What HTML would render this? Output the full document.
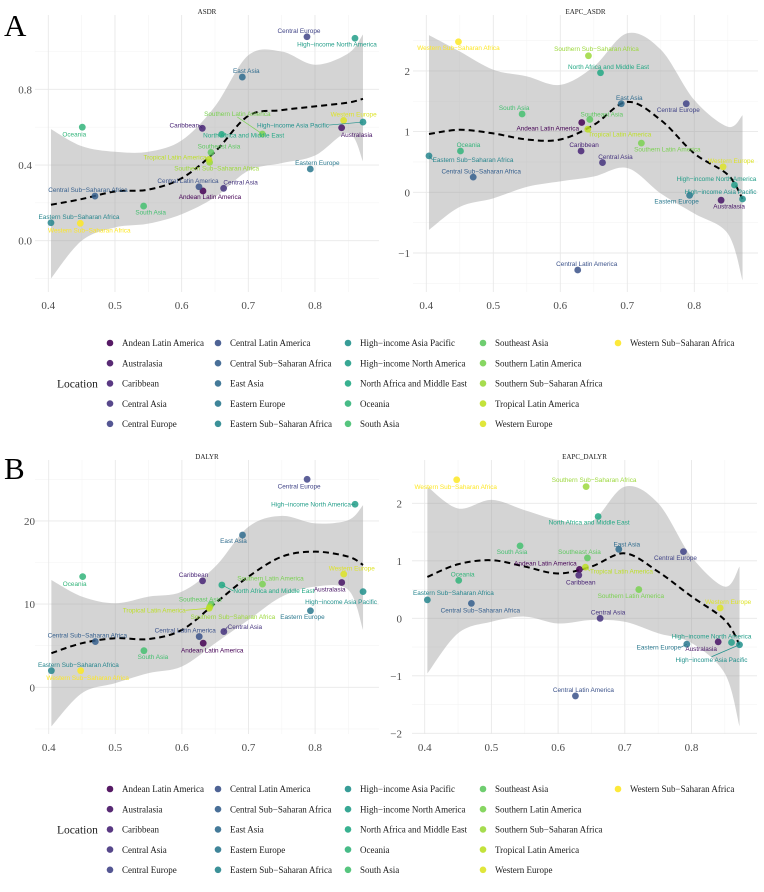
<!DOCTYPE html>
<html><head><meta charset="utf-8">
<style>
body{margin:0;background:#fff;}
svg{display:block;}
.tick{font-family:"Liberation Serif",serif;font-size:11px;fill:#4d4d4d;}
.ptitle{font-family:"Liberation Serif",serif;font-size:7px;fill:#1a1a1a;}
.lbl{font-family:"Liberation Sans",sans-serif;font-size:6.4px;}
.leg{font-family:"Liberation Serif",serif;font-size:9px;fill:#1a1a1a;}
.legt{font-family:"Liberation Serif",serif;font-size:11.5px;fill:#1a1a1a;}
.tag{font-family:"Liberation Serif",serif;font-size:31px;fill:#000;}
</style></head>
<body>
<svg id="fig" width="764" height="892" viewBox="0 0 764 892" xmlns="http://www.w3.org/2000/svg">
<text class="tag" x="4" y="36">A</text>
<text class="tag" x="4" y="479">B</text>
</svg>
<script>
const regions = ["Andean Latin America","Australasia","Caribbean","Central Asia","Central Europe","Central Latin America","Central Sub\u2212Saharan Africa","East Asia","Eastern Europe","Eastern Sub\u2212Saharan Africa","High\u2212income Asia Pacific","High\u2212income North America","North Africa and Middle East","Oceania","South Asia","Southeast Asia","Southern Latin America","Southern Sub\u2212Saharan Africa","Tropical Latin America","Western Europe","Western Sub\u2212Saharan Africa"];
const sdi = [0.632,0.840,0.631,0.663,0.788,0.626,0.470,0.691,0.793,0.404,0.872,0.860,0.660,0.451,0.543,0.644,0.721,0.642,0.641,0.843,0.448];
const asdr = [0.263,0.597,0.594,0.277,1.078,0.285,0.236,0.865,0.379,0.095,0.627,1.070,0.562,0.600,0.183,0.467,0.564,0.414,0.430,0.636,0.092];
const eapcAsdr = [1.15,-0.13,0.68,0.49,1.46,-1.28,0.25,1.46,-0.05,0.60,-0.11,0.12,1.97,0.68,1.29,1.20,0.81,2.25,1.04,0.42,2.48];
const dalyr = [5.3,12.6,12.8,6.7,25.0,6.1,5.5,18.3,9.2,2.0,11.5,22.0,12.3,13.3,4.4,10.0,12.4,9.7,9.5,13.6,2.0];
const eapcDalyr = [0.85,-0.41,0.75,0.0,1.16,-1.35,0.26,1.20,-0.45,0.32,-0.46,-0.42,1.77,0.66,1.26,1.05,0.50,2.29,0.89,0.18,2.41];

const smoothX = [0.404,0.45,0.5,0.55,0.6,0.65,0.7,0.75,0.8,0.85,0.872];
const asdrFit = [0.19,0.22,0.26,0.27,0.33,0.47,0.66,0.69,0.71,0.73,0.75];
const asdrHi = [0.59,0.50,0.47,0.47,0.53,0.71,0.98,1.00,0.93,0.99,1.09];
const asdrLo = [-0.20,0.00,0.07,0.09,0.14,0.23,0.37,0.41,0.45,0.57,0.42];
const eapcAsdrFit = [0.96,1.03,0.97,0.87,0.87,1.11,1.49,1.19,0.64,0.29,-0.11];
const eapcAsdrHi = [2.59,2.32,2.02,1.91,1.77,2.07,2.62,2.35,1.52,1.08,1.27];
const eapcAsdrLo = [-0.62,-0.24,-0.10,0.09,0.18,0.26,0.40,-0.02,-0.35,-0.68,-1.45];
const dalyrFit = [4.1,5.3,5.9,5.8,6.9,10.1,13.3,15.7,16.3,15.7,14.7];
const dalyrHi = [12.9,10.9,10.1,10.9,11.5,14.5,19.3,20.6,19.7,20.1,21.9];
const dalyrLo = [-4.7,-0.7,0.5,1.7,2.5,5.3,8.1,10.9,12.1,11.7,6.9];
const eapcDalyrFit = [0.72,0.94,1.01,0.90,0.78,0.90,1.13,0.81,0.38,-0.03,-0.46];
const eapcDalyrHi = [2.29,1.91,2.06,1.88,1.71,1.68,2.29,2.00,1.07,0.55,0.90];
const eapcDalyrLo = [-0.96,-0.26,-0.06,0.03,-0.09,-0.03,-0.06,-0.26,-0.43,-0.96,-1.88];

const xTicks = [0.4,0.5,0.6,0.7,0.8];
const xMinor = [0.45,0.55,0.65,0.75,0.85];
const asdrTicks = [0.0,0.4,0.8];
const asdrMinor = [-0.2,0.2,0.6,1.0];
const eapcAsdrTicks = [-1,0,1,2];
const eapcAsdrMinor = [-1.5,-0.5,0.5,1.5,2.5];
const dalyrTicks = [0,10,20];
const dalyrMinor = [-5,5,15,25];
const eapcDalyrTicks = [-2,-1,0,1,2];
const eapcDalyrMinor = [-1.5,-0.5,0.5,1.5];

// label offsets (layout, px)
const offA1=[[7,6],[15,7],[-18,-3],[17,-6],[-8,-6],[-11,-6],[-7,-6],[4,-6],[7,-6],[28,-6],[-70,3],[-18,6],[22,1],[-8,7],[7,6],[8,-6],[-25,-20],[7,6],[-34,-2],[10,-6],[9,7]];
const offA2=[[-34,6],[8,6],[3,-6],[13,-6],[-8,6],[9,-6],[8,-6],[8,-6],[-13,6],[44,4],[-22,-7],[-18,-6],[8,-6],[8,-6],[-8,-6],[12,-5],[26,6],[8,-7],[32,5],[8,-6],[0,6]];
const offB1=[[9,7],[-12,7],[-9,-6],[21,-5],[-8,7],[-14,-6],[-8,-6],[-9,6],[-8,6],[27,-6],[-22,10],[-44,0],[52,6],[-8,7],[9,6],[-11,-5],[8,-6],[23,10],[-55,2],[8,-6],[7,7]];
const offB2=[[-34,-6],[-17,7],[2,7],[8,-6],[-8,6],[8,-6],[9,7],[8,-5],[-28,3],[26,-7],[-28,15],[-20,-6],[-9,6],[4,-6],[-8,6],[-8,-6],[-8,6],[8,-7],[36,4],[8,-6],[-1,7]];

const NS="http://www.w3.org/2000/svg";
const svg=document.getElementById('fig');
const vir=["#440154","#482475","#414487","#355f8d","#2a788e","#21918c","#22a884","#44bf70","#7ad151","#bddf26","#fde725"];
function hex2rgb(h){return [parseInt(h.substr(1,2),16),parseInt(h.substr(3,2),16),parseInt(h.substr(5,2),16)];}
function viridis(t){const p=t*10,i=Math.min(9,Math.floor(p)),f=p-i;const a=hex2rgb(vir[i]),b=hex2rgb(vir[i+1]);return "rgb("+a.map((v,k)=>Math.round(v+(b[k]-v)*f)).join(",")+")";}
const colors=regions.map((r,i)=>viridis(i/(regions.length-1)));
function el(tag,attrs,parent){const e=document.createElementNS(NS,tag);for(const k in attrs)e.setAttribute(k,attrs[k]);(parent||svg).appendChild(e);return e;}
function smoothPath(pts,move){let d=(move?"M":"L")+pts[0][0].toFixed(2)+","+pts[0][1].toFixed(2);
 for(let i=0;i<pts.length-1;i++){const p0=pts[Math.max(0,i-1)],p1=pts[i],p2=pts[i+1],p3=pts[Math.min(pts.length-1,i+2)];
  const c1=[p1[0]+(p2[0]-p0[0])/6,p1[1]+(p2[1]-p0[1])/6],c2=[p2[0]-(p3[0]-p1[0])/6,p2[1]-(p3[1]-p1[1])/6];
  d+="C"+c1.map(v=>v.toFixed(2)).join(",")+" "+c2.map(v=>v.toFixed(2)).join(",")+" "+p2.map(v=>v.toFixed(2)).join(",");}
 return d;}

function panel(cfg){
 const g=el('g',{});
 
 
 const X=v=>cfg.x0+(v-0.4)*cfg.xs, Y=v=>cfg.y0-v*cfg.ys;
 // grid
 cfg.yMinor.forEach(v=>{const l=el('line',{x1:cfg.left,x2:cfg.right,y1:Y(v),y2:Y(v),stroke:'#f4f4f4','stroke-width':0.6},g);});
 xMinor.forEach(v=>{const l=el('line',{x1:X(v),x2:X(v),y1:cfg.top,y2:cfg.bottom,stroke:'#f4f4f4','stroke-width':0.6},g);});
 cfg.yTicks.forEach(v=>{const l=el('line',{x1:cfg.left,x2:cfg.right,y1:Y(v),y2:Y(v),stroke:'#e8e8e8','stroke-width':0.9},g);
  const t=el('text',{class:'tick',x:cfg.ylabX,y:Y(v)+4,'text-anchor':'end'},g);t.textContent=(cfg.dec?v.toFixed(1):String(v)).replace('-','\u2212');});
 xTicks.forEach(v=>{const l=el('line',{x1:X(v),x2:X(v),y1:cfg.top,y2:cfg.bottom,stroke:'#e8e8e8','stroke-width':0.9},g);
  const t=el('text',{class:'tick',x:X(v),y:cfg.xlabY,'text-anchor':'middle'},g);t.textContent=v.toFixed(1);});
 // title
 const tt=el('text',{class:'ptitle',x:(cfg.left+cfg.right)/2,y:cfg.titleY,'text-anchor':'middle'},g);tt.textContent=cfg.title;
 // band
 const up=smoothX.map((x,i)=>[X(x),Y(cfg.hi[i])]);const lo=smoothX.map((x,i)=>[X(x),Y(cfg.lo[i])]).reverse();
 const band=el('path',{d:smoothPath(up,true)+smoothPath(lo,false)+"Z",fill:'#999999','fill-opacity':0.42},g);
 
 const fit=el('path',{d:smoothPath(smoothX.map((x,i)=>[X(x),Y(cfg.fit[i])]),true),fill:'none',stroke:'#000','stroke-width':2,'stroke-dasharray':'6,4'},g);
 
 // points & labels
 const labs=[];
 regions.forEach((r,i)=>{
  const px=X(sdi[i]),py=Y(cfg.vals[i]);
  const c=el('circle',{cx:px,cy:py,r:3.4,fill:colors[i],'fill-opacity':0.85},g);
  
  
  labs.push([i,px,py]);
 });
 labs.forEach(([i,px,py])=>{
  const o=cfg.off[i];
  const t=el('text',{class:'lbl',x:px+o[0],y:py+o[1]+2.2,'text-anchor':'middle',fill:colors[i]},g);
  t.textContent=regions[i];
  
  
  const hw=t.getComputedTextLength()/2;
  if(Math.abs(o[0])>hw+3||Math.abs(o[1])>12){
   let ex=o[0],ey=o[1];
   if(Math.abs(o[0])>hw){ex=o[0]-Math.sign(o[0])*hw;} else {ey=o[1]-Math.sign(o[1])*3;}
   const s=el('line',{x1:px,y1:py,x2:px+ex,y2:py+ey,stroke:colors[i],'stroke-width':0.7},g);
   
  }
 });
}
panel({name:'asdr-panel',title:'ASDR',x0:48.3,xs:666.7,y0:240.7,ys:189.2,left:35,right:379,top:15,bottom:292,ylabX:32,xlabY:309,titleY:14,dec:true,yTicks:asdrTicks,yMinor:asdrMinor,vals:asdr,fit:asdrFit,hi:asdrHi,lo:asdrLo,off:offA1});
panel({name:'eapc-asdr-panel',title:'EAPC_ASDR',x0:426.3,xs:670,y0:192.3,ys:60.7,left:413,right:758,top:15,bottom:292,ylabX:410,xlabY:309,titleY:14,dec:false,yTicks:eapcAsdrTicks,yMinor:eapcAsdrMinor,vals:eapcAsdr,fit:eapcAsdrFit,hi:eapcAsdrHi,lo:eapcAsdrLo,off:offA2});
panel({name:'dalyr-panel',title:'DALYR',x0:48.7,xs:666,y0:687.3,ys:8.32,left:35,right:379,top:460,bottom:734,ylabX:35,xlabY:751,titleY:459,dec:false,yTicks:dalyrTicks,yMinor:dalyrMinor,vals:dalyr,fit:dalyrFit,hi:dalyrHi,lo:dalyrLo,off:offB1});
panel({name:'eapc-dalyr-panel',title:'EAPC_DALYR',x0:424.7,xs:667,y0:618.3,ys:57.5,left:412,right:757,top:460,bottom:734,ylabX:402,xlabY:751,titleY:459,dec:false,yTicks:eapcDalyrTicks,yMinor:eapcDalyrMinor,vals:eapcDalyr,fit:eapcDalyrFit,hi:eapcDalyrHi,lo:eapcDalyrLo,off:offB2});

// legends
const legDotX=[110,218,348,483,618];
function legend(y0,name){
 const g=el('g',{});
 
 
 const t=el('text',{class:'legt',x:57,y:y0+2*20.2+4},g);t.textContent='Location';
 
 regions.forEach((r,i)=>{
  const col=Math.floor(i/5),row=i%5,y=y0+row*20.2;
  const e=el('g',{},g);
  
  
  el('circle',{cx:legDotX[col],cy:y,r:3.3,fill:colors[i],'fill-opacity':0.9},e);
  const tx=el('text',{class:'leg',x:legDotX[col]+12,y:y+3.2},e);tx.textContent=r;
 });
}
legend(343,'legend-a');
legend(789,'legend-b');
</script>
</body></html>
